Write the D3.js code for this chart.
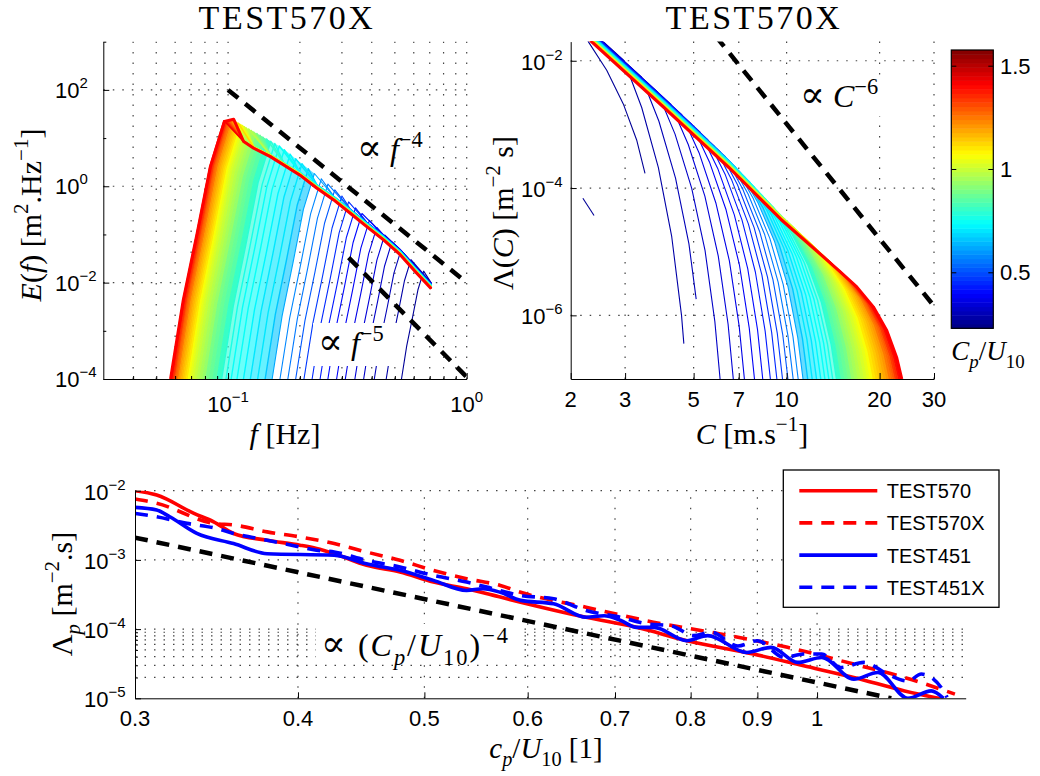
<!DOCTYPE html>
<html>
<head>
<meta charset="utf-8">
<script src="https://cdn.jsdelivr.net/npm/d3@7"></script>
<style>
  body { margin: 0; background: #fff; }
  .tick-label { font-family: "Liberation Sans", Arial, sans-serif; font-size: 22px; fill: #000; }
  .math { font-family: "Liberation Serif", "DejaVu Serif", serif; fill: #000; white-space: pre; }
  .grid line { stroke: #444; stroke-width: 1.2; }
</style>
</head>
<body>
<div id="chart"></div>
<script>
// ---------- top-left: E(f) of every run ----------
// Cp/U10 of each run (colour), foot of the front at 1e-4, peak position
var runCp = [0.27,0.29,0.31,0.33,0.35,0.37,0.39,0.41,0.43,0.45,0.47,0.508,0.547,0.585,0.623,0.662,0.70,0.712,0.724,0.736,
  0.748,0.76,0.788,0.816,0.844,0.872,0.90,0.924,0.949,0.973,0.997,1.021,1.046,1.07,1.094,1.119,1.143,1.167,1.191,1.216,
  1.24,1.27,1.30,1.33,1.36,1.39,1.42];
var footF = [0.533,0.46,0.41,0.37,0.34,0.31,0.285,0.262,0.243,0.225,0.208,0.192,0.178,0.165,0.153,0.143,0.133,0.124,0.116,0.109,
  0.103,0.098,0.094,0.090,0.0865,0.0835,0.0808,0.0784,0.0762,0.0742,0.0724,0.0708,0.0694,0.0681,0.0669,0.0658,0.0648,0.0638,0.0629,0.0620,
  0.0612,0.0605,0.0598,0.0592,0.0586,0.058,0.0574];
var peakF = [0.660,0.584,0.530,0.486,0.453,0.420,0.391,0.364,0.342,0.320,0.300,0.280,0.262,0.246,0.230,0.217,0.204,0.192,0.182,0.172,
  0.164,0.157,0.151,0.145,0.140,0.136,0.132,0.128,0.125,0.122,0.119,0.117,0.115,0.113,0.111,0.110,0.108,0.107,0.105,0.104,
  0.102,0.101,0.100,0.099,0.098,0.097,0.096];
var peakE = [0.0173,0.0301,0.0465,0.0697,0.0975,0.140,0.196,0.272,0.357,0.473,0.629,0.841,1.11,1.43,1.84,2.31,2.94,3.72,4.65,5.72,
  6.85,7.74,8.58,9.56,10.5,11.5,12.5,13.4,14.4,15.4,16.4,17.3,18.2,19.1,19.9,20.7,21.5,22.4,23,23,
  23,23,23,23,23,23,23];
// how far (decades) each run sits above the red curve
var runShift = [0.12,0.12,0.115,0.11,0.11,0.105,0.1,0.1,0.095,0.09,0.09,0.085,0.08,0.08,0.075,0.07,0.07,0.065,0.06,0.06,
  0.055,0.05,0.05,0.045,0.045,0.04,0.04,0.035,0.035,0.03,0.03,0.028,0.026,0.024,0.022,0.02,0.018,0.016,0.014,0.012,
  0.01,0.008,0.006,0.005,0.004,0.002,0];

// thick red spectrum (last run); its part after f = 0.116 is the shared tail
var redF = [0.0574,0.0649,0.0742,0.0843,0.0965,0.1055,0.1162,0.128,0.1503,0.171,0.2,0.2357,0.277,0.325,0.381,0.448,0.526,0.6175,0.71];
var redE = [1e-4,0.00436,0.106,2.56,22,24.6,8.45,6.15,4.12,2.77,1.7,0.91,0.52,0.275,0.145,0.077,0.038,0.0157,0.0075];
var tailF = redF.slice(6), tailE = redE.slice(6);
// shape of the rising front (share of log f, share of log E)
var frontU = [0, 0.236, 0.494, 0.74, 1];
var frontV = [0, 0.307, 0.566, 0.825, 1];

var slope4F = [0.1, 1], slope4E = [100, 0.01];
var slope5F = [0.32, 1], slope5E = [0.033, 1.1e-4];

var fGrid = [0.04,0.05,0.06,0.07,0.08,0.09,0.1,0.2,0.3,0.4,0.5,0.6,0.7,0.8,0.9,1];
var fTicks = [0.1, 1];
var fMinor = [0.04,0.05,0.06,0.07,0.08,0.09,0.2,0.3,0.4,0.5,0.6,0.7,0.8,0.9];
var eTicks = [1e-4, 1e-2, 1, 1e2];
var eMinor = [1e-3, 1e-1, 10, 1e3];
var eGrid = [1e-2, 1, 1e2];

// ---------- top-right: Lambda(C) ----------
var lamEnvC = [2.25, 4.0, 6.5, 9.6, 14.8];
var lamEnvL = [0.0235, 1.85e-3, 2.1e-4, 3.2e-5, 5.0e-6];
var dropU = [-0.2027, -0.1458, -0.092, -0.0486, -0.0169, 0];   // log10(C / C_foot)
var dropV = [0, 0.147, 0.335, 0.553, 0.80, 1];                  // share of the fall to 1e-7
var lamShiftScale = 1.4;
// C where each run (2nd to last) reaches the bottom; first two stop early
var lamFootC = [4.75,5.4,6.09,6.72,7.3,7.87,8.37,8.86,9.3,9.7,10.1,10.5,10.9,11.3,11.7,12.1,12.5,12.9,13.3,13.7,
  14.1,14.5,14.9,15.3,15.7,16.1,16.5,16.9,17.3,17.7,18.1,18.5,18.9,19.3,19.7,20.1,20.5,20.9,21.3,21.7,
  22.0,22.3,22.6,22.9,23.2,23.6];
var lamStopL = [3.6e-7, 1.8e-6];
var firstC = [2.2, 2.28, 2.616, 2.96, 3.27, 3.48];
var firstL = [0.03, 0.02, 7.1e-3, 2.1e-3, 5.7e-4, 1.7e-4];
var stubC = [2.19, 2.38], stubL = [6.9e-5, 3.7e-5];
var redC = [2.25, 4.0, 6.5, 9.59, 14.8, 16.87, 19.09, 21.1, 22.7, 23.6];
var redL = [0.0235, 1.85e-3, 2.1e-4, 3.2e-5, 5.0e-6, 2.8e-6, 1.36e-6, 5.8e-7, 2.2e-7, 1.0e-7];
var slope6C = [5.9, 30], slope6L = [0.0242, 1.4e-6];

var cTicks = [2, 3, 5, 7, 10, 20, 30];
var cGrid = [3, 5, 7, 10, 20, 30];
var lTicks = [1e-6, 1e-4, 1e-2];

var cbarRange = [0.229, 1.576];
var cbarTicks = [0.5, 1, 1.5];
var fillFromCp = 0.65;   // runs this old or older are packed so tightly they read as a solid fan

// ---------- bottom: Lambda_p vs cp/U10 ----------
var x570 = [0.3,0.3117,0.3329,0.3447,0.357,0.3788,0.4014,0.4133,0.4264,0.4515,0.4789,0.508,0.5387,0.5717,0.5926,0.6651,0.7272,0.7946,0.8935,0.9766,1.067,1.167,1.25];
var y570 = [1.0e-2,8.66e-3,4.7e-3,3.55e-3,2.41e-3,1.92e-3,1.63e-3,1.46e-3,1.23e-3,8.35e-4,6.7e-4,4.78e-4,3.83e-4,2.9e-4,2.45e-4,1.48e-4,1.06e-4,6.8e-5,4.36e-5,2.95e-5,2.0e-5,1.28e-5,9.7e-6];
var x570X = [0.3,0.3117,0.3447,0.357,0.3788,0.4014,0.4264,0.4515,0.4789,0.508,0.5387,0.5717,0.5926,0.6651,0.7492,0.8435,0.9491,1.067,1.167,1.2755];
var y570X = [7.6e-3,6.6e-3,3.37e-3,3.2e-3,2.54e-3,2.15e-3,1.72e-3,1.3e-3,9.86e-4,7.06e-4,5.35e-4,4.27e-4,3.4e-4,2.07e-4,1.26e-4,8.5e-5,5.45e-5,3.12e-5,2.0e-5,1.15e-5];
var x451 = [0.3,0.3117,0.319,0.3346,0.357,0.3788,0.4264,0.4515,0.4648,0.4789,0.508,0.5387,0.5544,0.5717,0.5926,0.6281,0.6651,0.6867,0.7072,0.7272,0.75,0.7946,0.8243,0.8832,0.9222,0.9665,1.0083,1.067,1.1135,1.1738,1.2232,1.25];
var y451 = [5.74e-3,5.25e-3,4.2e-3,2.41e-3,1.72e-3,1.23e-3,1.17e-3,8.8e-4,7.9e-4,7.06e-4,5.06e-4,3.62e-4,3.83e-4,3.4e-4,2.6e-4,2.32e-4,1.48e-4,1.56e-4,1.33e-4,1.06e-4,1.06e-4,6.8e-5,8.05e-5,4.6e-5,5.45e-5,3.3e-5,3.89e-5,1.89e-5,2.36e-5,1.0e-5,1.28e-5,1.0e-5];
var x451X = [0.3,0.3117,0.3288,0.3464,0.357,0.3788,0.4014,0.4133,0.4264,0.4515,0.4789,0.508,0.5387,0.5582,0.5926,0.6281,0.6651,0.7072,0.7406,0.7726,0.8041,0.8293,0.8695,0.9,0.9438,0.9766,1.0083,1.0424,1.0861,1.1319,1.1738,1.2021,1.25,1.258];
var y451X = [4.7e-3,4.2e-3,3.37e-3,2.85e-3,2.41e-3,1.92e-3,1.54e-3,1.38e-3,1.3e-3,9.86e-4,7.9e-4,5.97e-4,4.78e-4,4.05e-4,3.06e-4,2.74e-4,1.86e-4,1.48e-4,1.19e-4,1.12e-4,8.05e-5,9.0e-5,5.7e-5,6.8e-5,3.89e-5,4.36e-5,4.36e-5,2.79e-5,3.3e-5,2.24e-5,1.77e-5,2.24e-5,1.28e-5,1.03e-5];
var slopeCpX = [0.3, 1.14], slopeCpY = [2.1e-3, 1.0e-5];

var seriesNames = ["TEST570", "TEST570X", "TEST451", "TEST451X"];
var cpTicks = [0.3,0.4,0.5,0.6,0.7,0.8,0.9,1];
var cpGrid = [0.4,0.5,0.6,0.7,0.8,0.9,1];
var lpTicks = [1e-5, 1e-4, 1e-3, 1e-2];
var lpGrid = [1e-4, 1e-3, 1e-2];
var lpMinor = [2e-5,3e-5,4e-5,5e-5,6e-5,7e-5,8e-5,9e-5];

// ---------- setup ----------
var svg = d3.select("#chart").append("svg").attr("width", 1040).attr("height", 776);
var defs = svg.append("defs");

var xA = d3.scaleLog().domain([0.03, 1]).range([103.3, 466.7]);
var yA = d3.scaleLog().domain([1e-4, 1e3]).range([379, 41.7]);
var xB = d3.scaleLog().domain([2, 30]).range([570.7, 934]);
var yB = d3.scaleLog().domain([1e-7, 0.02]).range([379, 41.6]);
var cB = d3.scaleLinear().domain(cbarRange).range([328.3, 50]);
var xC = d3.scaleLog().domain([0.3, 1.3]).range([135, 965.7]);
var yC = d3.scaleLog().domain([1e-5, 1e-2]).range([698.3, 490.7]);

function jet(t) {
  var k = Math.max(0, Math.min(63, Math.floor(t * 64)));
  var s = (k + 0.5) / 64;
  var ch = function(v) { return Math.round(255 * Math.max(0, Math.min(1, v))); };
  return "rgb(" + ch(Math.min(4 * s - 1.5, -4 * s + 4.5)) + "," +
    ch(Math.min(4 * s - 0.5, -4 * s + 3.5)) + "," + ch(Math.min(4 * s + 0.5, -4 * s + 2.5)) + ")";
}
function cpColor(c) { return jet((c - cbarRange[0]) / (cbarRange[1] - cbarRange[0])); }
function runWidth(c) { return c >= fillFromCp ? 1.4 : 1.1; }
function bandOpacity(c) { return c >= 0.8 ? 1 : 0.6; }

function logInterp(xs, ys, x) {
  var lx = Math.log10(x), k = 0;
  while (k < xs.length - 2 && Math.log10(xs[k + 1]) < lx) k++;
  var x0 = Math.log10(xs[k]), x1 = Math.log10(xs[k + 1]);
  var y0 = Math.log10(ys[k]), y1 = Math.log10(ys[k + 1]);
  return Math.pow(10, y0 + (y1 - y0) * (lx - x0) / (x1 - x0));
}

function clipFor(id, x, y) {
  defs.append("clipPath").attr("id", id).append("rect")
    .attr("x", x.range()[0]).attr("y", y.range()[1])
    .attr("width", x.range()[1] - x.range()[0]).attr("height", y.range()[0] - y.range()[1]);
  return "url(#" + id + ")";
}

function drawGrid(x, y, xs, ys) {
  var g = svg.append("g").attr("class", "grid");
  g.selectAll(null).data(xs).enter().append("line")
    .attr("x1", d => x(d)).attr("x2", d => x(d))
    .attr("y1", y.range()[0]).attr("y2", y.range()[1])
    .attr("stroke-dasharray", "1.5,9");
  g.selectAll(null).data(ys).enter().append("line")
    .attr("x1", x.range()[0]).attr("x2", x.range()[1])
    .attr("y1", d => y(d)).attr("y2", d => y(d))
    .attr("stroke-dasharray", "1.5,8");
}

function drawAxes(x, y, xMajor, xMinor, yMajor, yMinor) {
  var b = y.range()[0], l = x.range()[0];
  svg.append("g").attr("transform", "translate(0," + b + ")")
    .call(d3.axisBottom(x).tickValues(xMajor).tickSize(-6).tickSizeOuter(0).tickFormat(""));
  svg.append("g").attr("transform", "translate(" + l + ",0)")
    .call(d3.axisLeft(y).tickValues(yMajor).tickSize(-6).tickSizeOuter(0).tickFormat(""));
  if (xMinor.length) svg.append("g").attr("transform", "translate(0," + b + ")")
    .call(d3.axisBottom(x).tickValues(xMinor).tickSize(-3).tickFormat(""))
    .select(".domain").remove();
  if (yMinor.length) svg.append("g").attr("transform", "translate(" + l + ",0)")
    .call(d3.axisLeft(y).tickValues(yMinor).tickSize(-3).tickFormat(""))
    .select(".domain").remove();
}

function powLabel(sel, v) {
  var e = Math.round(Math.log10(v));
  sel.append("tspan").text("10");
  sel.append("tspan").attr("dy", -10).style("font-size", "15px").text(e < 0 ? "\u2212" + (-e) : String(e));
}

function mathText(sel, parts, size) {
  var shift = 0;
  parts.forEach(function(p) {
    var k = p[1];
    var off = k.indexOf("sup") >= 0 ? -0.42 * size : k.indexOf("sub") >= 0 ? 0.28 * size : 0;
    var fs = off !== 0 ? 0.7 * size : (k === "rel" ? 1.15 * size : size);
    sel.append("tspan")
      .attr("dy", off - shift)
      .style("font-size", fs + "px")
      .style("font-style", k.charAt(0) === "i" ? "italic" : "normal")
      .text(p[0]);
    shift = off;
  });
}

function mathLabel(x, y, rotate, anchor, parts, size) {
  var t = svg.append("text").attr("class", "math").attr("text-anchor", anchor)
    .attr("transform", "translate(" + x + "," + y + ")" + (rotate ? " rotate(-90)" : ""))
    .style("font-size", size + "px");
  mathText(t, parts, size);
  return t;
}

function whiteBox(x0, y0, x1, y1) {
  svg.append("rect").attr("x", x0).attr("y", y0).attr("width", x1 - x0).attr("height", y1 - y0).attr("fill", "#fff");
}

function title(x, txt) {
  svg.append("text").attr("class", "math").attr("x", x).attr("y", 29).attr("text-anchor", "middle")
    .style("font-size", "34px").style("letter-spacing", "2.5px").text(txt);
}

var guideStyle = function(sel) {
  sel.attr("fill", "none").attr("stroke", "#000").attr("stroke-width", 4.5).attr("stroke-dasharray", "13,9");
};

// ================= top-left panel =================
drawGrid(xA, yA, fGrid, eGrid);
var clipA = clipFor("clipA", xA, yA);
var lineA = d3.line().x(d => xA(d[0])).y(d => yA(d[1]));
var gA = svg.append("g").attr("clip-path", clipA);

function frontPts(i) {
  var lf0 = Math.log10(footF[i]), df = Math.log10(peakF[i]) - lf0;
  var dv = Math.log10(peakE[i]) + 4;
  return frontU.map((u, k) => [Math.pow(10, lf0 + u * df), Math.pow(10, -4 + frontV[k] * dv)]);
}
var spectra = runCp.map(function(c, i) {
  var pts = frontPts(i);
  var s = Math.pow(10, runShift[i]);
  tailF.forEach(function(f, k) { if (f > peakF[i] * 1.06) pts.push([f, tailE[k] * s]); });
  return { c: c, pts: pts };
});
// solid fan: band between each front and the next younger one
var bandsA = runCp.map((c, i) => ({ c: c, i: i })).filter(d => d.i > 0 && d.c >= fillFromCp);
gA.selectAll(".band").data(bandsA).enter().append("path").attr("class", "band")
  .attr("d", d => lineA(frontPts(d.i).concat(frontPts(d.i - 1).reverse())) + "Z")
  .attr("fill", d => cpColor(d.c)).attr("fill-opacity", d => bandOpacity(d.c)).attr("stroke", "none");
gA.selectAll(".run").data(spectra).enter().append("path").attr("class", "run")
  .attr("d", d => lineA(d.pts)).attr("fill", "none")
  .attr("stroke", d => cpColor(d.c)).attr("stroke-width", d => runWidth(d.c))
  .attr("stroke-linejoin", "round");
gA.append("path").attr("d", lineA(redF.map((f, k) => [f, redE[k]])))
  .attr("fill", "none").attr("stroke", "#ff0000").attr("stroke-width", 3).attr("stroke-linejoin", "round");
gA.append("path").attr("d", lineA(slope4F.map((f, k) => [f, slope4E[k]]))).call(guideStyle);
gA.append("path").attr("d", lineA(slope5F.map((f, k) => [f, slope5E[k]]))).call(guideStyle);

mathLabel(357, 160, false, "start", [["\u221d", "rel"], [" ", ""], ["f", "i"], ["\u22124", "sup"]], 32);
whiteBox(313, 323, 403, 366);
mathLabel(318, 354, false, "start", [["\u221d", "rel"], [" ", ""], ["f", "i"], ["\u22125", "sup"]], 32);

drawAxes(xA, yA, fTicks, fMinor, eTicks, eMinor);
svg.append("g").selectAll("text").data(fTicks).enter().append("text").attr("class", "tick-label")
  .attr("x", d => xA(d)).attr("y", 412).attr("text-anchor", "middle")
  .each(function(d) { powLabel(d3.select(this), d); });
svg.append("g").selectAll("text").data(eTicks).enter().append("text").attr("class", "tick-label")
  .attr("x", 55).attr("y", d => yA(d) + 8)
  .each(function(d) { powLabel(d3.select(this), d); });

title(287, "TEST570X");
mathLabel(285, 444, false, "middle", [["f", "i"], [" [Hz]", ""]], 30);
mathLabel(41, 215, true, "middle",
  [["E", "i"], ["(", ""], ["f", "i"], [") [m", ""], ["2", "sup"], [".Hz", ""], ["\u22121", "sup"], ["]", ""]], 30);

// ================= top-right panel =================
drawGrid(xB, yB, cGrid, lTicks);
var clipB = clipFor("clipB", xB, yB);
var lineB = d3.line().x(d => xB(d[0])).y(d => yB(d[1]));
var gB = svg.append("g").attr("clip-path", clipB);

var fans = lamFootC.map(function(F, j) {
  var i = j + 1;
  var s = Math.pow(10, runShift[i] * lamShiftScale);
  var stop = j < lamStopL.length ? lamStopL[j] : 0;
  var knee = F * Math.pow(10, dropU[0]);
  var pts = [];
  lamEnvC.forEach(function(C, k) { if (C < knee) pts.push([C, lamEnvL[k] * s]); });
  var lk = Math.log10(logInterp(lamEnvC, lamEnvL, knee) * s);
  var prev = null;
  dropU.forEach(function(u, k) {
    var p = [F * Math.pow(10, u), Math.pow(10, lk + dropV[k] * (-7 - lk))];
    if (p[1] >= stop) { pts.push(p); prev = p; }
    else if (prev) {
      var a = (Math.log10(stop) - Math.log10(prev[1])) / (Math.log10(p[1]) - Math.log10(prev[1]));
      pts.push([Math.pow(10, Math.log10(prev[0]) + a * (Math.log10(p[0]) - Math.log10(prev[0]))), stop]);
      prev = null; stop = Infinity;
    }
  });
  return { c: runCp[i], pts: pts };
});
fans.unshift({ c: runCp[0], pts: firstC.map((C, k) => [C, firstL[k]]) });

var bandsB = fans.map((d, i) => ({ c: d.c, i: i })).filter(d => d.i > 0 && d.c >= fillFromCp);
gB.selectAll(".band").data(bandsB).enter().append("path").attr("class", "band")
  .attr("d", d => lineB(fans[d.i].pts.concat(fans[d.i - 1].pts.slice().reverse())) + "Z")
  .attr("fill", d => cpColor(d.c)).attr("fill-opacity", d => bandOpacity(d.c)).attr("stroke", "none");
gB.append("path").attr("d", lineB(stubC.map((C, k) => [C, stubL[k]])))
  .attr("fill", "none").attr("stroke", cpColor(runCp[0])).attr("stroke-width", 1.1);
gB.selectAll(".run").data(fans).enter().append("path").attr("class", "run")
  .attr("d", d => lineB(d.pts)).attr("fill", "none")
  .attr("stroke", d => cpColor(d.c)).attr("stroke-width", d => runWidth(d.c))
  .attr("stroke-linejoin", "round");
gB.append("path").attr("d", lineB(redC.map((C, k) => [C, redL[k]])))
  .attr("fill", "none").attr("stroke", "#ff0000").attr("stroke-width", 3).attr("stroke-linejoin", "round");
gB.append("path").attr("d", lineB(slope6C.map((C, k) => [C, slope6L[k]]))).call(guideStyle);

whiteBox(797, 78, 894, 116);
mathLabel(800, 107, false, "start", [["\u221d", "rel"], [" ", ""], ["C", "i"], ["\u22126", "sup"]], 32);

drawAxes(xB, yB, cTicks, [], lTicks, []);
svg.append("g").selectAll("text").data(cTicks).enter().append("text").attr("class", "tick-label")
  .attr("x", d => xB(d)).attr("y", 407).attr("text-anchor", "middle").text(d => d);
svg.append("g").selectAll("text").data(lTicks).enter().append("text").attr("class", "tick-label")
  .attr("x", 521).attr("y", d => yB(d) + 9)
  .each(function(d) { powLabel(d3.select(this), d); });

title(754, "TEST570X");
mathLabel(752, 444, false, "middle", [["C", "i"], [" [m.s", ""], ["\u22121", "sup"], ["]", ""]], 30);
mathLabel(513, 213, true, "middle",
  [["\u039b(", ""], ["C", "i"], [") [m", ""], ["\u22122", "sup"], [" s]", ""]], 30);

// colour bar
var bands = d3.range(64);
var step = (cbarRange[1] - cbarRange[0]) / 64;
svg.append("g").selectAll("rect").data(bands).enter().append("rect")
  .attr("x", 951.3).attr("width", 42)
  .attr("y", k => cB(cbarRange[0] + (k + 1) * step))
  .attr("height", k => cB(cbarRange[0] + k * step) - cB(cbarRange[0] + (k + 1) * step) + 0.5)
  .attr("fill", k => jet((k + 0.5) / 64));
svg.append("rect").attr("x", 951.3).attr("y", 50).attr("width", 42).attr("height", 278.3)
  .attr("fill", "none").attr("stroke", "#000").attr("stroke-width", 1.2);
svg.append("g").attr("transform", "translate(951.3,0)")
  .call(d3.axisRight(cB).tickValues(cbarTicks).tickSize(5).tickFormat("")).select(".domain").remove();
svg.append("g").attr("transform", "translate(993.3,0)")
  .call(d3.axisLeft(cB).tickValues(cbarTicks).tickSize(5).tickFormat("")).select(".domain").remove();
svg.append("g").selectAll("text").data(cbarTicks).enter().append("text").attr("class", "tick-label")
  .attr("x", 1000).attr("y", d => cB(d) + 8).text(d => d);
mathLabel(988, 360, false, "middle", [["C", "i"], ["p", "isub"], ["/", ""], ["U", "i"], ["10", "sub"]], 27);

// ================= bottom panel =================
drawGrid(xC, yC, cpGrid, lpGrid.concat(lpMinor));
var clipC = clipFor("clipC", xC, yC);
var lineC = d3.line().x(d => xC(d[0])).y(d => yC(d[1])).curve(d3.curveMonotoneX);
var gC = svg.append("g").attr("clip-path", clipC);

var series = [
  { name: seriesNames[0], xs: x570, ys: y570, color: "#ff0000", dash: null },
  { name: seriesNames[1], xs: x570X, ys: y570X, color: "#ff0000", dash: "13,9" },
  { name: seriesNames[2], xs: x451, ys: y451, color: "#0000ff", dash: null },
  { name: seriesNames[3], xs: x451X, ys: y451X, color: "#0000ff", dash: "13,9" }
];
gC.selectAll(".series").data(series).enter().append("path").attr("class", "series")
  .attr("d", d => lineC(d.xs.map((x, k) => [x, d.ys[k]])))
  .attr("fill", "none").attr("stroke", d => d.color).attr("stroke-width", 3.6)
  .attr("stroke-dasharray", d => d.dash);
gC.append("path").attr("d", lineC(slopeCpX.map((x, k) => [x, slopeCpY[k]]))).call(guideStyle);

whiteBox(316, 624, 518, 662);
mathLabel(321, 656, false, "start",
  [["\u221d", "rel"], [" (", ""], ["C", "i"], ["p", "isub"], ["/", ""], ["U", "i"], ["10", "sub"], [")", ""], ["\u22124", "sup"]], 32)
  .style("letter-spacing", "2px");

drawAxes(xC, yC, cpTicks, [], lpTicks, lpMinor);
svg.append("g").selectAll("text").data(cpTicks).enter().append("text").attr("class", "tick-label")
  .attr("x", d => xC(d)).attr("y", 726).attr("text-anchor", "middle").text(d => d);
svg.append("g").selectAll("text").data(lpTicks).enter().append("text").attr("class", "tick-label")
  .attr("x", 84).attr("y", d => yC(d) + 9)
  .each(function(d) { powLabel(d3.select(this), d); });

mathLabel(546, 758, false, "middle",
  [["c", "i"], ["p", "isub"], ["/", ""], ["U", "i"], ["10", "sub"], [" [1]", ""]], 29);
mathLabel(72, 594, true, "middle",
  [["\u039b", ""], ["p", "isub"], [" [m", ""], ["\u22122", "sup"], [".s]", ""]], 30);

// legend
var legend = svg.append("g");
legend.append("rect").attr("x", 783.3).attr("y", 470).attr("width", 215.7).attr("height", 137.3)
  .attr("fill", "#fff").attr("stroke", "#000").attr("stroke-width", 1.3);
var rows = legend.selectAll(".row").data(series).enter().append("g").attr("class", "row")
  .attr("transform", (d, k) => "translate(0," + (490.7 + k * 32.2) + ")");
rows.append("line").attr("x1", 799.3).attr("x2", 877.3)
  .attr("stroke", d => d.color).attr("stroke-width", 3.6).attr("stroke-dasharray", d => d.dash);
rows.append("text").attr("class", "tick-label").attr("x", 886.7).attr("y", 7.5)
  .style("font-size", "20px").text(d => d.name);
</script>
</body>
</html>
